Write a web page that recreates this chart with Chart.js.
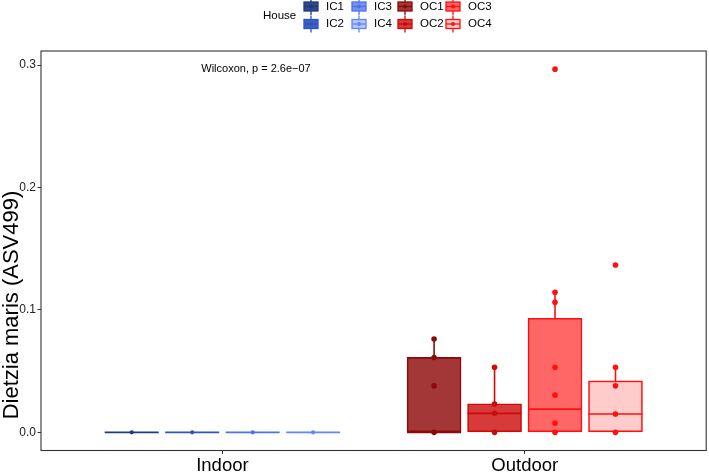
<!DOCTYPE html>
<html>
<head>
<meta charset="utf-8">
<script src="https://cdn.jsdelivr.net/npm/chart.js@4.4.0/dist/chart.umd.min.js"></script>
<style>
  html, body { margin: 0; padding: 0; background: #fff; }
  canvas { display: block; }
</style>
</head>
<body>
<canvas id="chart" width="709" height="474"></canvas>
<script>
// ---- data ----
const locations = ['Indoor', 'Outdoor'];
const houses = ['IC1', 'IC2', 'IC3', 'IC4', 'OC1', 'OC2', 'OC3', 'OC4'];
const houseLocation = [0, 0, 0, 0, 1, 1, 1, 1];
const houseSlot = [0, 1, 2, 3, 0, 1, 2, 3];

// box stats per house: lower whisker, Q1, median, Q3, upper whisker
const whiskLow = [0, 0, 0, 0, 0, 0, 0, 0];
const q1 = [0, 0, 0, 0, 0, 0, 0, 0];
const median = [0, 0, 0, 0, 0, 0.0155, 0.019, 0.015];
const q3 = [0, 0, 0, 0, 0.0612, 0.0232, 0.0932, 0.042];
const whiskHigh = [0, 0, 0, 0, 0.0762, 0.0532, 0.1144, 0.0532];

// individual samples per house
const ptsIC1 = [0];
const ptsIC2 = [0];
const ptsIC3 = [0];
const ptsIC4 = [0];
const ptsOC1 = [0, 0.038, 0.0612, 0.0762];
const ptsOC2 = [0, 0.0155, 0.0232, 0.0532];
const ptsOC3 = [0, 0.0075, 0.0304, 0.0532, 0.1063, 0.1144, 0.2967];
const ptsOC4 = [0, 0.015, 0.038, 0.0532, 0.1367];
const samples = [ptsIC1, ptsIC2, ptsIC3, ptsIC4, ptsOC1, ptsOC2, ptsOC3, ptsOC4];

const yTicks = [0, 0.1, 0.2, 0.3];
const testLabel = 'Wilcoxon, p = 2.6e\u221207';
const testLabelX = 0.93;   // left edge of the annotation, in x units
const yTitle = 'Dietzia maris (ASV499)';
const legendTitle = 'House';

// ---- styles ----
const lineCols = ['#1f3a80', '#2f54c2', '#4d73ea', '#5f86ff', '#8b0a0a', '#cc0a0a', '#ff1010', '#ff1010'];
const fillCols = ['#2e4a8c', '#3d5fc2', '#7592f0', '#b5c6ff', '#a33636', '#d63a3a', '#ff6666', '#ffcccc'];
const FONT = "'Liberation Sans', Arial, Helvetica, sans-serif";

// ggplot-style dodge and expansion
const dodgeWidth = 0.8;
const xPos = houses.map((h, i) => houseLocation[i] + 1 + (houseSlot[i] - 1.5) * dodgeWidth / 4);
const allVals = samples.flat();
const yMaxData = Math.max(...allVals);
const yMinData = Math.min(...allVals);
const yPad = (yMaxData - yMinData) * 0.05;

const datasets = [];
houses.forEach((h, i) => {
  datasets.push({
    type: 'bar',
    label: h,
    data: [{ x: xPos[i], y: [q1[i], q3[i]] }],
    backgroundColor: fillCols[i],
    borderColor: lineCols[i],
    borderWidth: 1.6,
    borderSkipped: false,
    barThickness: 54,
    grouped: false,
    order: 1,
    houseIndex: i
  });
});
houses.forEach((h, i) => {
  datasets.push({
    type: 'scatter',
    label: h + ' points',
    data: samples[i].map(v => ({ x: xPos[i], y: v })),
    backgroundColor: lineCols[i],
    borderWidth: 0,
    pointRadius: houseLocation[i] === 0 ? 2.1 : 2.8,
    pointHoverRadius: 0,
    order: 0
  });
});

// whiskers and median drawn right after each box
const boxParts = {
  id: 'boxParts',
  afterDatasetDraw(chart, args) {
    const ds = chart.data.datasets[args.index];
    if (ds.type !== 'bar') return;
    const i = ds.houseIndex;
    const y = chart.scales.y;
    const bar = args.meta.data[0];
    const { x, width } = bar.getProps(['x', 'width'], true);
    const ctx = chart.ctx;
    ctx.save();
    ctx.strokeStyle = lineCols[i];
    ctx.lineWidth = 1.6;
    ctx.beginPath();
    ctx.moveTo(x, y.getPixelForValue(q3[i]));
    ctx.lineTo(x, y.getPixelForValue(whiskHigh[i]));
    ctx.moveTo(x, y.getPixelForValue(q1[i]));
    ctx.lineTo(x, y.getPixelForValue(whiskLow[i]));
    const ym = y.getPixelForValue(median[i]);
    ctx.moveTo(x - width / 2, ym);
    ctx.lineTo(x + width / 2, ym);
    ctx.stroke();
    ctx.restore();
  }
};

const panelExtras = {
  id: 'panelExtras',
  afterDraw(chart) {
    const { ctx, chartArea: a, scales } = chart;
    ctx.save();
    // panel border
    ctx.strokeStyle = '#333';
    ctx.lineWidth = 1.1;
    ctx.strokeRect(a.left, a.top, a.right - a.left, a.bottom - a.top);
    // test annotation
    ctx.fillStyle = '#000';
    ctx.font = '11px ' + FONT;
    ctx.textAlign = 'left';
    ctx.textBaseline = 'middle';
    ctx.fillText(testLabel, scales.x.getPixelForValue(testLabelX), scales.y.getPixelForValue(yMaxData));

    // y axis title (sits low in the reference, so placed by hand)
    ctx.save();
    ctx.translate(12, 305);
    ctx.rotate(-Math.PI / 2);
    ctx.textAlign = 'center';
    ctx.font = '22px ' + FONT;
    ctx.fillText(yTitle, 0, 0);
    ctx.restore();

    // legend: title + 4 columns x 2 rows, filled column-wise
    ctx.font = '11.5px ' + FONT;
    ctx.textAlign = 'left';
    ctx.fillText(legendTitle, 263, 16);
    const colX = [304, 352, 398, 446];
    const rowY = [6.5, 24];
    houses.forEach((h, i) => {
      const col = Math.floor(i / 2), row = i % 2;
      const kx = colX[col], ky = rowY[row];
      ctx.strokeStyle = lineCols[i];
      ctx.lineWidth = 1.3;
      ctx.beginPath();
      ctx.moveTo(kx + 7, ky - 8.5);
      ctx.lineTo(kx + 7, ky + 8.5);
      ctx.stroke();
      ctx.fillStyle = fillCols[i];
      ctx.fillRect(kx, ky - 4.5, 14, 9);
      ctx.strokeRect(kx, ky - 4.5, 14, 9);
      ctx.beginPath();
      ctx.moveTo(kx, ky);
      ctx.lineTo(kx + 14, ky);
      ctx.stroke();
      ctx.fillStyle = lineCols[i];
      ctx.beginPath();
      ctx.arc(kx + 7, ky, 2, 0, Math.PI * 2);
      ctx.fill();
      ctx.fillStyle = '#000';
      ctx.fillText(h, kx + 22, ky);
    });
    ctx.restore();
  }
};

new Chart(document.getElementById('chart'), {
  data: { datasets },
  options: {
    responsive: false,
    animation: false,
    events: [],
    layout: { padding: { top: 51, right: 1, left: 0, bottom: 0 } },
    plugins: { legend: { display: false }, tooltip: { enabled: false } },
    scales: {
      x: {
        type: 'linear',
        min: 0.4,
        max: 2.6,
        offset: false,
        afterBuildTicks: s => { s.ticks = locations.map((l, k) => ({ value: k + 1 })); },
        afterFit: s => { s.height = 23.5; },
        ticks: {
          autoSkip: false,
          maxRotation: 0,
          padding: 1,
          color: '#000',
          font: { family: FONT, size: 18.5 },
          callback: v => locations[Math.round(v) - 1]
        },
        grid: { display: true, offset: false, drawOnChartArea: false, drawTicks: true, tickLength: 3.5, color: '#333' },
        border: { display: false }
      },
      y: {
        type: 'linear',
        min: yMinData - yPad,
        max: yMaxData + yPad,
        afterBuildTicks: s => { s.ticks = yTicks.map(v => ({ value: v })); },
        afterFit: s => { s.width = 41; },
        ticks: {
          padding: 1.5,
          color: '#222',
          font: { family: FONT, size: 12 },
          callback: v => v.toFixed(1)
        },
        grid: { display: true, drawOnChartArea: false, drawTicks: true, tickLength: 3.5, color: '#333' },
        border: { display: false },
        title: { display: false }
      }
    }
  },
  plugins: [boxParts, panelExtras]
});
</script>
</body>
</html>
